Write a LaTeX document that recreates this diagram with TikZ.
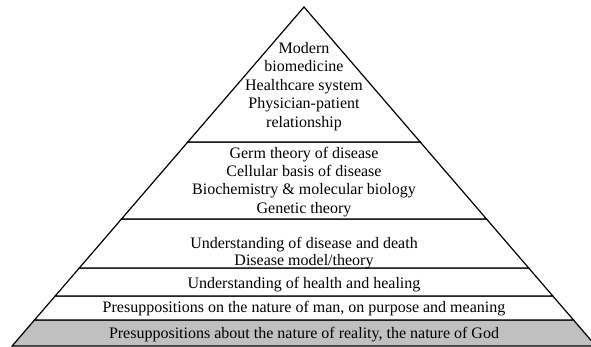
\documentclass[tikz,border=0pt]{standalone}
\usepackage{fontspec}
\setmainfont{Liberation Serif}
\definecolor{bandgray}{RGB}{192,192,192}
\tikzset{
  layer/.style={draw=black, line width=1.2pt, line join=miter},
  lbl/.style={anchor=base, inner sep=0pt, font=\fontsize{16}{18.5}\selectfont},
}
\begin{document}
\begin{tikzpicture}[x=1pt,y=-1pt]
\useasboundingbox (0,0) rectangle (591,347);
\clip (0,0) rectangle (591,347);
% layers (bottom to top)
\path[layer, fill=bandgray] (12.1,346) -- (595.9,346) -- (573.5,320) -- (34.5,320) -- cycle;
\path[layer, fill=white] (34.5,320) -- (573.5,320) -- (552.8,296) -- (55.2,296) -- cycle;
\path[layer, fill=white] (55.2,296) -- (552.8,296) -- (528.7,268) -- (79.3,268) -- cycle;
\path[layer, fill=white] (79.3,268) -- (528.7,268) -- (486.5,219) -- (121.5,219) -- cycle;
\path[layer, fill=white] (121.5,219) -- (486.5,219) -- (420.2,142) -- (187.8,142) -- cycle;
\path[layer, fill=white] (187.8,142) -- (420.2,142) -- (304,7) -- cycle;
% labels
\node[lbl] (t1) at (304,53.3) {Modern};
\node[lbl] (t2) at (304,71.8) {biomedicine};
\node[lbl] (t3) at (304,90.3) {Healthcare system};
\node[lbl] (t4) at (304,108.8) {Physician-patient};
\node[lbl] (t5) at (304,127.3) {relationship};
\node[lbl] (g1) at (304,158.3) {Germ theory of disease};
\node[lbl] (g2) at (304,176.7) {Cellular basis of disease};
\node[lbl] (g3) at (304,195.0) {Biochemistry \& molecular biology};
\node[lbl] (g4) at (304,213.3) {Genetic theory};
\node[lbl] (u1) at (304,248.3) {Understanding of disease and death};
\node[lbl] (u2) at (304,265.7) {Disease model/theory};
\node[lbl] (h1) at (304,288.0) {Understanding of health and healing};
\node[lbl] (m1) at (304,312.5) {Presuppositions on the nature of man, on purpose and meaning};
\node[lbl] (r1) at (304,338.0) {Presuppositions about the nature of reality, the nature of God};
\end{tikzpicture}
\end{document}
